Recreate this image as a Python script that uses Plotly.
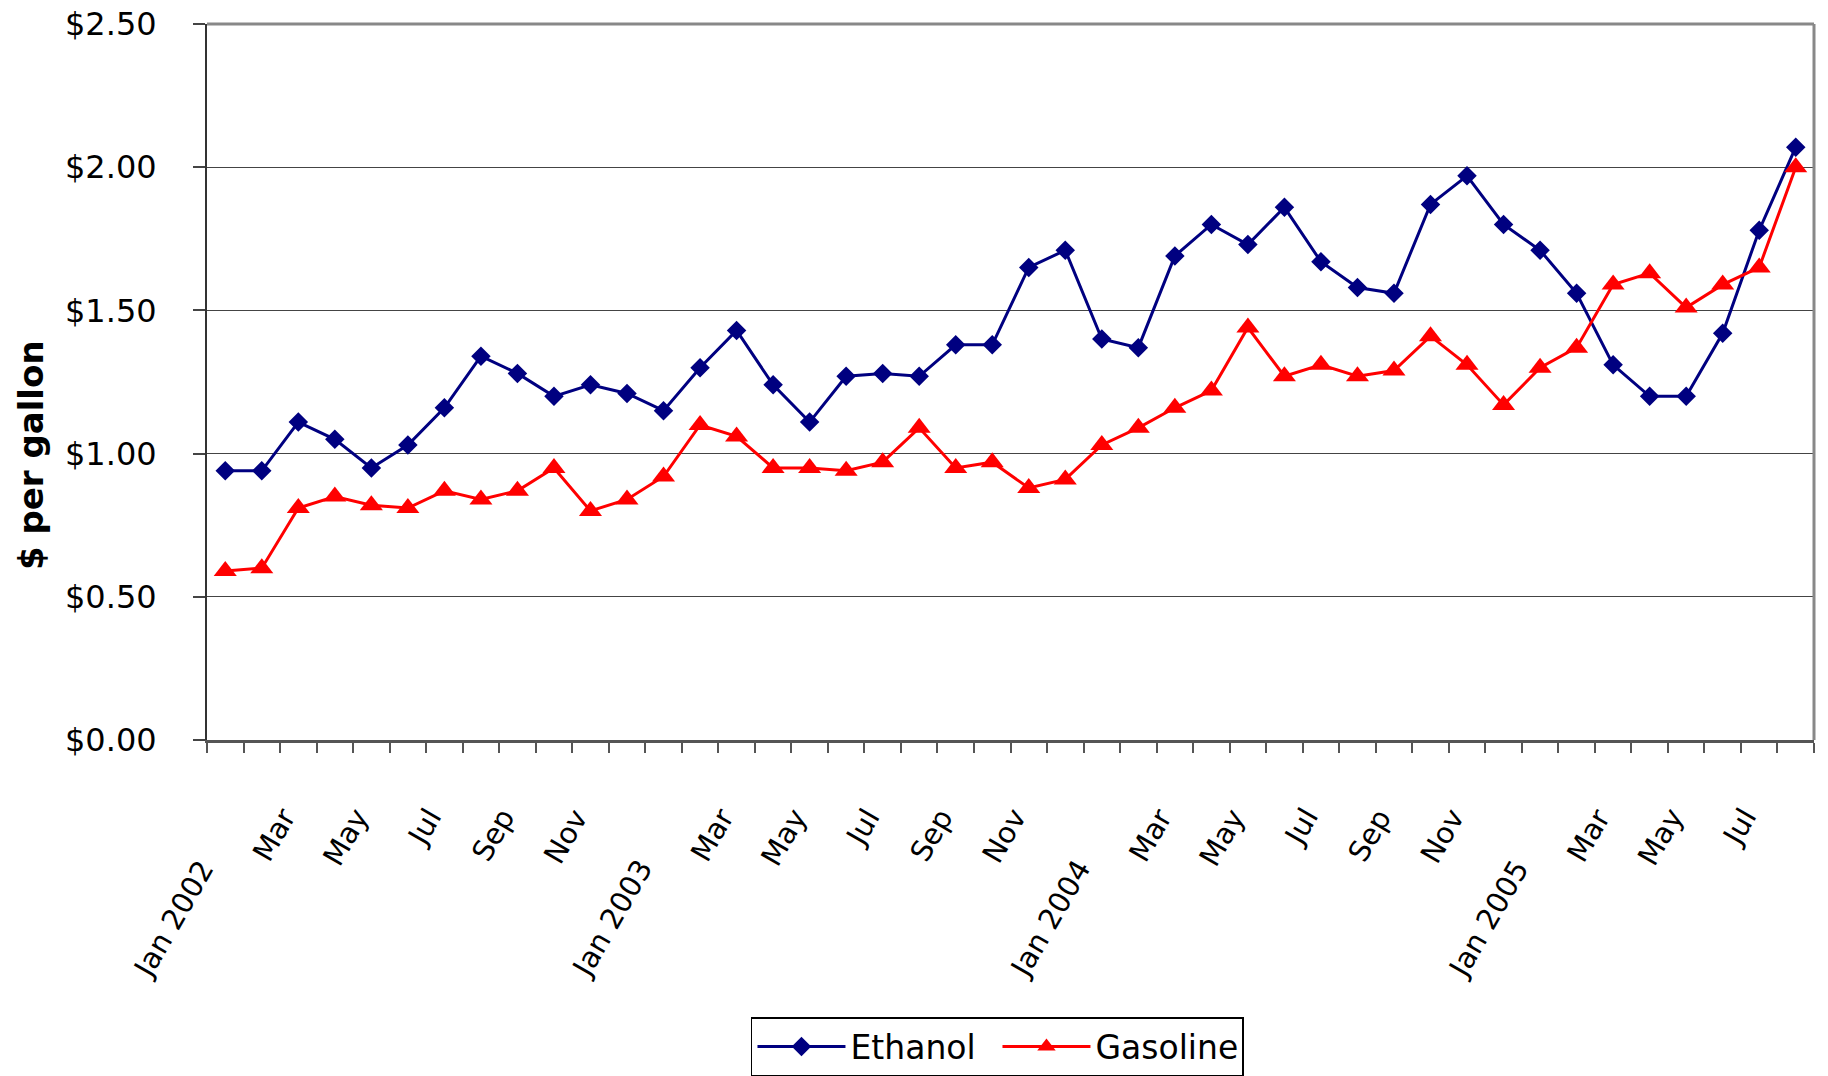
import plotly.graph_objects as go

# Monthly categories, Jan 2002 - Aug 2005
months = [
    "2002-01", "2002-02", "2002-03", "2002-04", "2002-05", "2002-06",
    "2002-07", "2002-08", "2002-09", "2002-10", "2002-11", "2002-12",
    "2003-01", "2003-02", "2003-03", "2003-04", "2003-05", "2003-06",
    "2003-07", "2003-08", "2003-09", "2003-10", "2003-11", "2003-12",
    "2004-01", "2004-02", "2004-03", "2004-04", "2004-05", "2004-06",
    "2004-07", "2004-08", "2004-09", "2004-10", "2004-11", "2004-12",
    "2005-01", "2005-02", "2005-03", "2005-04", "2005-05", "2005-06",
    "2005-07", "2005-08",
]

tick_labels = [
    "Jan 2002", "", "Mar", "", "May", "", "Jul", "", "Sep", "", "Nov", "",
    "Jan 2003", "", "Mar", "", "May", "", "Jul", "", "Sep", "", "Nov", "",
    "Jan 2004", "", "Mar", "", "May", "", "Jul", "", "Sep", "", "Nov", "",
    "Jan 2005", "", "Mar", "", "May", "", "Jul", "",
]

# $ per gallon
ethanol = [
    0.94, 0.94, 1.11, 1.05, 0.95, 1.03, 1.16, 1.34, 1.28, 1.20, 1.24, 1.21,
    1.15, 1.30, 1.43, 1.24, 1.11, 1.27, 1.28, 1.27, 1.38, 1.38, 1.65, 1.71,
    1.40, 1.37, 1.69, 1.80, 1.73, 1.86, 1.67, 1.58, 1.56, 1.87, 1.97, 1.80,
    1.71, 1.56, 1.31, 1.20, 1.20, 1.42, 1.78, 2.07,
]

gasoline = [
    0.59, 0.60, 0.81, 0.85, 0.82, 0.81, 0.87, 0.84, 0.87, 0.95, 0.80, 0.84,
    0.92, 1.10, 1.06, 0.95, 0.95, 0.94, 0.97, 1.09, 0.95, 0.97, 0.88, 0.91,
    1.03, 1.09, 1.16, 1.22, 1.44, 1.27, 1.31, 1.27, 1.29, 1.41, 1.31, 1.17,
    1.30, 1.37, 1.59, 1.63, 1.51, 1.59, 1.65, 2.00,
]

FONT = "DejaVu Sans"
NAVY = "#000080"
RED = "#FF0000"

fig = go.Figure()
fig.add_trace(go.Scatter(
    x=months, y=ethanol, name="Ethanol", mode="lines+markers",
    line=dict(color=NAVY, width=3),
    marker=dict(symbol="diamond", size=15, color=NAVY),
))
fig.add_trace(go.Scatter(
    x=months, y=gasoline, name="Gasoline", mode="lines+markers",
    line=dict(color=RED, width=3),
    marker=dict(symbol="triangle-up", size=20, color=RED),
))

fig.update_layout(
    width=1828, height=1076,
    margin=dict(l=207, r=14, t=24, b=336, autoexpand=False),
    paper_bgcolor="white", plot_bgcolor="white",
    showlegend=True,
    legend=dict(
        orientation="h", x=0.3385, y=-0.387, xanchor="left", yanchor="top",
        bordercolor="black", borderwidth=1.5, bgcolor="white",
        font=dict(family=FONT, size=33, color="black"),
        itemwidth=88, entrywidth=142, entrywidthmode="pixels",
    ),
)

fig.update_xaxes(
    type="category", range=[-0.5, 43.5],
    tickmode="linear", tick0=0, dtick=1, tickson="boundaries",
    ticks="outside", ticklen=10, tickwidth=1.5, tickcolor="#555555",
    showticklabels=False,
    showline=True, linecolor="#555555", linewidth=2.5,
    showgrid=False, zeroline=False,
)
fig.update_yaxes(
    range=[0, 2.5], tick0=0, dtick=0.5,
    tickprefix="$", tickformat=".2f",
    ticks="outside", ticklen=12, tickwidth=1.5, tickcolor="#444444",
    ticklabelstandoff=30,
    tickfont=dict(family=FONT, size=32, color="black"),
    showline=True, linecolor="#333333", linewidth=2,
    showgrid=True, gridcolor="#444444", gridwidth=1,
    zeroline=False,
)

# Lighter frame along the top and right of the plot area
fig.add_shape(type="line", xref="paper", yref="paper", x0=0, x1=1, y0=1, y1=1,
              line=dict(color="#888888", width=3), layer="above")
fig.add_shape(type="line", xref="paper", yref="paper", x0=1, x1=1, y0=0, y1=1,
              line=dict(color="#888888", width=3), layer="above")

# Slanted month labels; January labels sit lower than the others
for m, lab in zip(months, tick_labels):
    if not lab:
        continue
    is_jan = lab.startswith("Jan")
    fig.add_annotation(
        x=m, xref="x", y=0, yref="paper",
        text=lab, textangle=-60, showarrow=False,
        xanchor="right", yanchor="top",
        xshift=-2 if is_jan else 7,
        yshift=-111 if is_jan else -60,
        font=dict(family=FONT, size=29, color="black"),
    )

# Axis title
fig.add_annotation(
    x=-0.1095, xref="paper", y=0.398, yref="paper",
    text="$ per gallon", textangle=-90, showarrow=False,
    xanchor="center", yanchor="middle",
    font=dict(family=FONT, size=34, color="black", weight="bold"),
)

fig.write_html("out.html")
